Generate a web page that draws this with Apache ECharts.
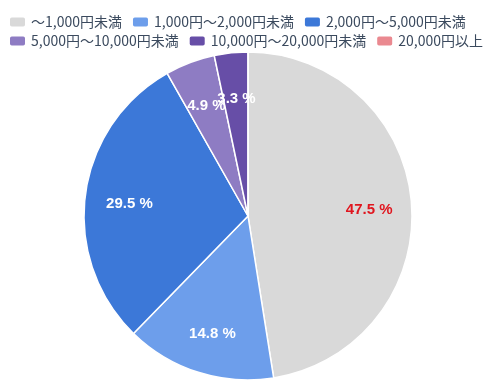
<!DOCTYPE html>
<html>
<head>
<meta charset="utf-8">
<script src="https://cdn.jsdelivr.net/npm/echarts@6/dist/echarts.min.js"></script>
<style>
html,body{margin:0;padding:0;background:#fff;}
#chart{width:495px;height:386px;}
</style>
</head>
<body>
<div id="chart"></div>
<script>
const categories = ['～1,000円未満', '1,000円～2,000円未満', '2,000円～5,000円未満', '5,000円～10,000円未満', '10,000円～20,000円未満', '20,000円以上'];
const values = [47.5, 14.8, 29.5, 4.9, 3.3, 0];

const palette = ['#d9d9d9', '#6d9eeb', '#3c78d8', '#8e7cc3', '#674ea7', '#ea8990'];
const labelColors = ['#e0161f', '#ffffff', '#ffffff', '#ffffff', '#ffffff', '#ffffff'];
const labelRadiusFraction = 0.735;

const chart = echarts.init(document.getElementById('chart'), null, {renderer: 'canvas'});

const total = values.reduce((a, b) => a + b, 0);
const mainData = categories.map((c, i) => ({
  name: c, value: values[i],
  itemStyle: {color: palette[i]}
}));

// label points at the middle angle of each slice, derived from the values
const labelPoints = [];
let cum = 0;
values.forEach((v, i) => {
  const mid = (cum + v / 2) / total * 100;
  cum += v;
  if (v > 0) {
    labelPoints.push({
      value: [labelRadiusFraction, mid],
      pct: v,
      label: {color: labelColors[i]}
    });
  }
});

const legendBase = {
  left: 8, padding: 0, orient: 'horizontal',
  itemWidth: 17, itemHeight: 11, itemGap: 9,
  icon: 'roundRect',
  textStyle: {fontFamily: '"Noto Sans CJK JP", sans-serif', fontSize: 14, color: '#3b4a5e'}
};

chart.setOption({
  animation: false,
  color: palette,
  legend: [
    Object.assign({}, legendBase, {top: 15, data: categories.slice(0, 3)}),
    Object.assign({}, legendBase, {top: 34, data: categories.slice(3)})
  ],
  polar: {center: [248, 216], radius: 164},
  angleAxis: {
    type: 'value', min: 0, max: 100, startAngle: 90, clockwise: true, show: false,
    splitLine: {show: false}, axisLine: {show: false}
  },
  radiusAxis: {type: 'value', min: 0, max: 1, show: false, splitLine: {show: false}},
  series: [
    {
      type: 'pie',
      center: [248, 216],
      radius: [0, 164],
      startAngle: 90,
      clockwise: true,
      data: mainData,
      label: {show: false},
      labelLine: {show: false},
      itemStyle: {borderColor: '#ffffff', borderWidth: 1.5},
      emphasis: {disabled: true}
    },
    {
      type: 'scatter',
      coordinateSystem: 'polar',
      symbolSize: 0,
      silent: true,
      z: 10,
      itemStyle: {opacity: 1},
      data: labelPoints,
      label: {
        show: true,
        position: 'inside',
        offset: [1, 3],
        opacity: 1,
        fontFamily: '"Liberation Sans", Arial, sans-serif',
        fontWeight: 'bold',
        fontSize: 15,
        formatter: p => p.data.pct.toFixed(1) + ' %'
      },
      emphasis: {disabled: true}
    }
  ]
});
</script>
</body>
</html>
